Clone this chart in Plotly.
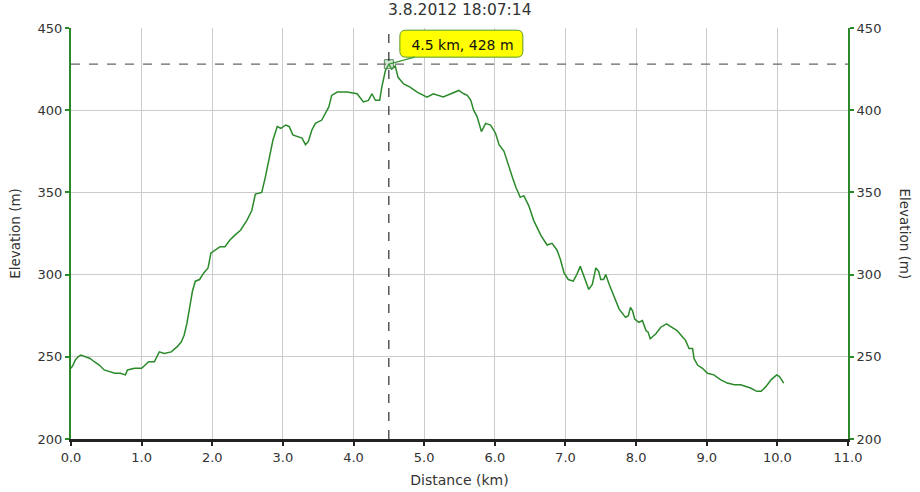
import plotly.graph_objects as go

# elevation profile
distance_km = [
    0.00, 0.03, 0.06, 0.10, 0.14, 0.20, 0.27, 0.33, 0.40, 0.47, 0.55, 0.62, 0.70, 0.77,
    0.80, 0.90, 1.00, 1.05, 1.10, 1.18, 1.22, 1.25, 1.32, 1.42, 1.50, 1.56, 1.60, 1.64,
    1.68, 1.72, 1.76, 1.82, 1.88, 1.94, 1.98, 2.05, 2.11, 2.18, 2.25, 2.32, 2.40, 2.49,
    2.56, 2.61, 2.70, 2.75, 2.80, 2.86, 2.92, 2.97, 3.04, 3.09, 3.14, 3.22, 3.27, 3.32,
    3.36, 3.41, 3.46, 3.55, 3.60, 3.65, 3.69, 3.77, 3.91, 4.05, 4.14, 4.21, 4.26, 4.31,
    4.37, 4.40, 4.45, 4.50, 4.54, 4.59, 4.63, 4.71, 4.80, 4.90, 5.04, 5.13, 5.27, 5.37,
    5.49, 5.56, 5.61, 5.66, 5.70, 5.75, 5.81, 5.87, 5.94, 6.01, 6.06, 6.13, 6.18, 6.25,
    6.30, 6.36, 6.41, 6.48, 6.55, 6.65, 6.74, 6.81, 6.88, 6.93, 6.98, 7.04, 7.11, 7.16,
    7.21, 7.26, 7.33, 7.38, 7.43, 7.47, 7.50, 7.54, 7.57, 7.62, 7.69, 7.76, 7.85, 7.89,
    7.92, 7.95, 7.98, 8.04, 8.09, 8.14, 8.17, 8.20, 8.28, 8.35, 8.43, 8.51, 8.58, 8.64,
    8.70, 8.75, 8.80, 8.82, 8.87, 8.94, 9.01, 9.10, 9.20, 9.29, 9.39, 9.48, 9.55, 9.62,
    9.71, 9.77, 9.84, 9.91, 9.99, 10.03, 10.09,
]
elevation_m = [
    243, 245, 248, 250, 251, 250, 249, 247, 245, 242, 241, 240, 240, 239,
    242, 243, 243, 245, 247, 247, 251, 253, 252, 253, 256, 259, 263, 270,
    280, 290, 296, 297, 301, 304, 313, 315, 317, 317, 321, 324, 327, 333,
    339, 349, 350, 359, 370, 382, 390, 389, 391, 390, 385, 384, 383, 379,
    381, 388, 392, 394, 398, 402, 409, 411, 411, 410, 405, 406, 410, 406,
    406, 414, 424, 428, 425, 427, 420, 416, 414, 411, 408, 410, 408, 410,
    412, 410, 409, 406, 400, 396, 387, 392, 391, 386, 379, 375, 368, 359,
    353, 347, 348, 342, 333, 324, 318, 319, 315, 309, 301, 297, 296, 300,
    305, 299, 291, 294, 304, 302, 297, 297, 300, 294, 286, 279, 274, 275,
    280, 278, 273, 271, 272, 266, 265, 261, 264, 268, 270, 268, 266, 263,
    260, 255, 255, 249, 245, 243, 240, 239, 236, 234, 233, 233, 232, 231,
    229, 229, 232, 236, 239, 238, 234,
]

# hovered point
peak_km = [4.5]
peak_m = [428]

chart_title = "3.8.2012 18:07:14"
x_ticks = [0, 1, 2, 3, 4, 5, 6, 7, 8, 9, 10, 11]
y_ticks = [200, 250, 300, 350, 400, 450]

FONT = "DejaVu Sans, Verdana, sans-serif"
GREEN = "#2a8a2a"

fig = go.Figure()

fig.add_trace(go.Scatter(
    x=distance_km, y=elevation_m, mode="lines",
    line=dict(color=GREEN, width=1.5), showlegend=False, hoverinfo="skip",
))
# invisible copy so the right-hand axis is drawn
fig.add_trace(go.Scatter(
    x=distance_km, y=elevation_m, mode="lines", yaxis="y2",
    line=dict(color=GREEN, width=1), opacity=0, showlegend=False, hoverinfo="skip",
))

# crosshair at the hovered point
fig.add_shape(type="line", xref="x", yref="y", x0=0, x1=11, y0=peak_m[0], y1=peak_m[0],
              line=dict(color="#666666", width=1.3, dash="dash"))
fig.add_shape(type="line", xref="x", yref="y", x0=peak_km[0], x1=peak_km[0], y0=200, y1=450,
              line=dict(color="#000000", width=1, dash="dash"))

fig.add_trace(go.Scatter(
    x=peak_km, y=peak_m, mode="markers",
    marker=dict(symbol="square", size=9, color="rgba(120,180,120,0.35)",
                line=dict(color="#5a8a5a", width=1)),
    showlegend=False, hoverinfo="skip",
))

# rounded tooltip box, placed in pixels from the hovered point
fig.add_shape(
    type="path", xref="x", yref="y", xsizemode="pixel", ysizemode="pixel",
    xanchor=peak_km[0], yanchor=peak_m[0],
    path="M 17,34 L 128,34 Q 134,34 134,28 L 134,13 Q 134,7 128,7 "
         "L 17,7 Q 11,7 11,13 L 11,28 Q 11,34 17,34 Z",
    fillcolor="#ffff00", line=dict(color="#5a9a2a", width=1), layer="above",
)

fig.add_annotation(
    x=peak_km[0], y=peak_m[0], xref="x", yref="y",
    text=f"{peak_km[0]} km, {peak_m[0]} m",
    showarrow=True, arrowhead=0, arrowcolor="#3a9a3a", arrowwidth=1.3,
    ax=74, ay=-20, width=111, height=17, borderpad=4, borderwidth=1,
    bgcolor="rgba(0,0,0,0)", bordercolor="rgba(0,0,0,0)",
    font=dict(family=FONT, size=14, color="#111"),
)

fig.add_annotation(
    x=0.5, y=1, xref="paper", yref="paper", yanchor="middle", yshift=18,
    text=chart_title, showarrow=False, font=dict(family=FONT, size=15.5, color="#333"),
)
fig.add_annotation(
    x=1, y=0.5, xref="paper", yref="paper", xanchor="center", xshift=57,
    text="Elevation (m)", textangle=90, showarrow=False,
    font=dict(family=FONT, size=13.5, color="#333"),
)

fig.update_layout(
    width=920, height=492,
    margin=dict(l=71, r=72, t=28, b=53, autoexpand=False),
    paper_bgcolor="white", plot_bgcolor="white",
    font=dict(family=FONT, size=13, color="#333"),
    xaxis=dict(
        range=[0, 11], tickvals=x_ticks, ticktext=[f"{v:.1f}" for v in x_ticks],
        showgrid=True, gridcolor="#cccccc", gridwidth=1, zeroline=False,
        showline=True, linecolor="#222", linewidth=3, automargin=False,
        ticks="outside", ticklen=4, tickcolor="#222", tickwidth=2,
        title=dict(text="Distance (km)", standoff=12, font=dict(size=14)),
    ),
    yaxis=dict(
        range=[200, 450], tickvals=y_ticks, automargin=False,
        showgrid=True, gridcolor="#cccccc", gridwidth=1, zeroline=False,
        showline=True, linecolor=GREEN, linewidth=2,
        ticks="outside", ticklen=4, tickcolor=GREEN, tickwidth=2,
        title=dict(text="Elevation (m)", standoff=14, font=dict(size=13.5)),
    ),
    yaxis2=dict(
        range=[200, 450], tickvals=y_ticks, overlaying="y", side="right",
        showgrid=False, zeroline=False, automargin=False,
        showline=True, linecolor=GREEN, linewidth=2,
        ticks="outside", ticklen=4, tickcolor=GREEN, tickwidth=2,
    ),
)

# the page's default body margin would shift the chart
fig.write_html("out.html", config={"displayModeBar": False},
               post_script="document.body.style.margin='0';")
